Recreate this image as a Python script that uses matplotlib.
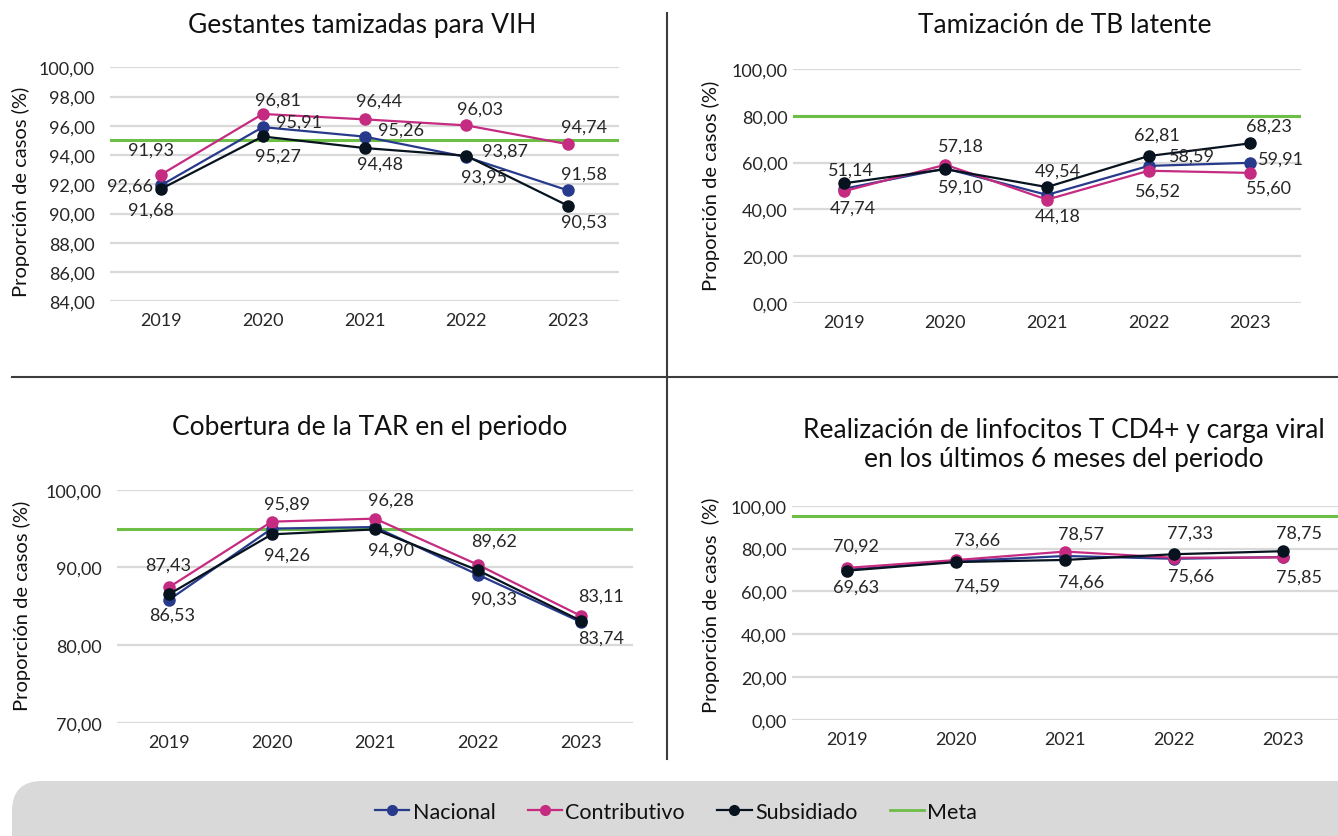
import matplotlib
matplotlib.use("Agg")
import matplotlib.pyplot as plt
from matplotlib.lines import Line2D
from matplotlib.patches import FancyBboxPatch

plt.rcParams['font.family'] = ['Lato', 'DejaVu Sans']

# ---- data ----
years = ['2019', '2020', '2021', '2022', '2023']

vih_nac = [91.93, 95.91, 95.26, 93.87, 91.58]
vih_con = [92.66, 96.81, 96.44, 96.03, 94.74]
vih_sub = [91.68, 95.27, 94.48, 93.95, 90.53]
vih_meta = 95

tb_nac = [48.8, 57.5, 46.2, 58.59, 59.91]
tb_con = [47.74, 59.10, 44.18, 56.52, 55.60]
tb_sub = [51.14, 57.18, 49.54, 62.81, 68.23]
tb_meta = 80

tar_nac = [85.8, 95.0, 95.2, 89.05, 82.95]
tar_con = [87.43, 95.89, 96.28, 90.33, 83.74]
tar_sub = [86.53, 94.26, 94.90, 89.62, 83.11]
tar_meta = 95

cd4_nac = [70.0, 74.0, 76.5, 75.2, 76.0]
cd4_con = [70.92, 74.59, 78.57, 75.66, 75.85]
cd4_sub = [69.63, 73.66, 74.66, 77.33, 78.75]
cd4_meta = 95

titles = ['Gestantes tamizadas para VIH',
          'Tamización de TB latente',
          'Cobertura de la TAR en el periodo',
          'Realización de linfocitos T CD4+ y carga viral\nen los últimos 6 meses del periodo']

# label placement: (series, year index, dx px, dy px up)
lab_vih = [('nac', 0, -10, 36), ('con', 0, -31, -11), ('sub', 0, -10, -21),
           ('con', 1, 15, 14), ('nac', 1, 36, 5), ('sub', 1, 15, -19),
           ('con', 2, 15, 19), ('nac', 2, 36, 7), ('sub', 2, 15, -16),
           ('con', 3, 14, 17), ('nac', 3, 39, 6), ('sub', 3, 18, -21),
           ('con', 4, 16, 18), ('nac', 4, 16, 17), ('sub', 4, 16, -16)]
lab_tb = [('sub', 0, 7, 14), ('con', 0, 9, -16),
          ('sub', 1, 16, 24), ('con', 1, 16, -22),
          ('sub', 2, 11, 16), ('con', 2, 11, -16),
          ('sub', 3, 8, 21), ('nac', 3, 43, 10), ('con', 3, 9, -20),
          ('sub', 4, 19, 18), ('nac', 4, 31, 4), ('con', 4, 19, -15)]
lab_tar = [('con', 0, 0, 23), ('sub', 0, 4, -20),
           ('con', 1, 15, 18), ('sub', 1, 15, -20),
           ('con', 2, 16, 19), ('sub', 2, 16, -20),
           ('sub', 3, 16, 30), ('con', 3, 16, -34),
           ('sub', 4, 20, 25), ('con', 4, 20, -21)]
lab_cd4 = [('con', 0, 9, 22), ('sub', 0, 9, -16),
           ('sub', 1, 21, 22), ('con', 1, 21, -26),
           ('con', 2, 16, 18), ('sub', 2, 16, -22),
           ('sub', 3, 16, 22), ('con', 3, 17, -18),
           ('sub', 4, 16, 19), ('con', 4, 16, -19)]

colors = {'nac': '#283A8B', 'con': '#C52B80', 'sub': '#07131F'}
names = {'nac': 'Nacional', 'con': 'Contributivo', 'sub': 'Subsidiado'}
meta_color = '#6DBE45'
grid_color = '#D9D9D9'
txt = '#262626'

W, H = 1338, 837
fig = plt.figure(figsize=(W / 100, H / 100), dpi=100)


def px_axes(l, t, r, b):
    return fig.add_axes([l / W, 1 - b / H, (r - l) / W, (b - t) / H])


def fmt(v):
    return f'{v:.2f}'.replace('.', ',')


def draw_panel(rect, series, meta, labels, ylim, step, ypad):
    ax = px_axes(*rect)
    x = list(range(len(years)))
    for key in ['nac', 'con', 'sub']:
        ax.plot(x, series[key], color=colors[key], lw=1.6, marker='o', ms=8,
                zorder=3)
    ax.axhline(meta, color=meta_color, lw=2.2, zorder=2)
    for key, i, dx, dy in labels:
        v = series[key][i]
        ax.annotate(fmt(v), (i, v), xytext=(dx, dy), textcoords='offset pixels',
                    ha='center', va='center', fontsize=13, color=txt, zorder=5)
    ticks = [ylim[0] + k * step for k in range(int(round((ylim[1] - ylim[0]) / step)) + 1)]
    ax.set_yticks(ticks)
    ax.set_yticklabels([fmt(t) for t in ticks])
    ax.set_ylim(ylim)
    ax.set_xlim(-0.5, 4.5)
    ax.set_xticks(x)
    ax.set_xticklabels(years)
    ax.grid(axis='y', color=grid_color, lw=1.6, zorder=0)
    ax.set_axisbelow(True)
    for s in ax.spines.values():
        s.set_visible(False)
    ax.tick_params(axis='both', length=0, labelsize=13, labelcolor=txt)
    ax.tick_params(axis='y', pad=ypad)
    ax.tick_params(axis='x', pad=8)
    return ax


draw_panel((110, 68.3, 619, 302.3), {'nac': vih_nac, 'con': vih_con, 'sub': vih_sub},
           vih_meta, lab_vih, (84, 100), 2, 11)
draw_panel((793, 70, 1301, 304), {'nac': tb_nac, 'con': tb_con, 'sub': tb_sub},
           tb_meta, lab_tb, (0, 100), 20, 4)
draw_panel((117, 490.7, 633, 724), {'nac': tar_nac, 'con': tar_con, 'sub': tar_sub},
           tar_meta, lab_tar, (70, 100), 10, 11)
draw_panel((792, 506.7, 1338, 720.7), {'nac': cd4_nac, 'con': cd4_con, 'sub': cd4_sub},
           cd4_meta, lab_cd4, (0, 100), 20, 4)

# titles
tsize = 19
fig.text(362 / W, 1 - 33.3 / H, titles[0], ha='center', va='baseline', fontsize=tsize, color='#111111')
fig.text(1065 / W, 1 - 33.3 / H, titles[1], ha='center', va='baseline', fontsize=tsize, color='#111111')
fig.text(370 / W, 1 - 435 / H, titles[2], ha='center', va='baseline', fontsize=tsize, color='#111111')
fig.text(1064 / W, 1 - 466.7 / H, titles[3], ha='center', va='baseline', fontsize=tsize,
         color='#111111', linespacing=1.2)

# y labels
for (cx, cy, lab) in [(21.3, 191.5, 'Proporción de casos (%)'),
                      (710.7, 186, 'Proporción de casos (%)'),
                      (22, 606, 'Proporción de casos (%)'),
                      (710.7, 605, 'Proporción de casos  (%)')]:
    fig.text(cx / W, 1 - cy / H, lab, rotation=90, ha='center', va='center',
             fontsize=14.5, color='#111111')

# dividers
fig.add_artist(Line2D([667 / W, 667 / W], [1 - 14 / H, 1 - 760 / H],
                      transform=fig.transFigure, color='#3C3C3C', lw=1.5))
fig.add_artist(Line2D([12 / W, 1], [1 - 378 / H, 1 - 378 / H],
                      transform=fig.transFigure, color='#3C3C3C', lw=1.5))

# legend box
box = FancyBboxPatch((0.12, -0.4), 13.6, 0.95, boxstyle='round,pad=0,rounding_size=0.3',
                     transform=fig.dpi_scale_trans, facecolor='#D9D9D9', edgecolor='none',
                     zorder=0)
fig.patches.append(box)

handles = [Line2D([], [], color=colors[k], marker='o', ms=7, lw=1.6) for k in ['nac', 'con', 'sub']]
handles.append(Line2D([], [], color=meta_color, lw=2))
leg_labels = [names[k] for k in ['nac', 'con', 'sub']] + ['Meta']
fig.legend(handles, leg_labels, loc='center', bbox_to_anchor=(676 / W, 1 - 813 / H),
           ncol=4, frameon=False, fontsize=15.5, handlelength=1.6, handletextpad=0.15,
           columnspacing=1.5, labelcolor='#111111')

fig.savefig('out.png', dpi=100)
